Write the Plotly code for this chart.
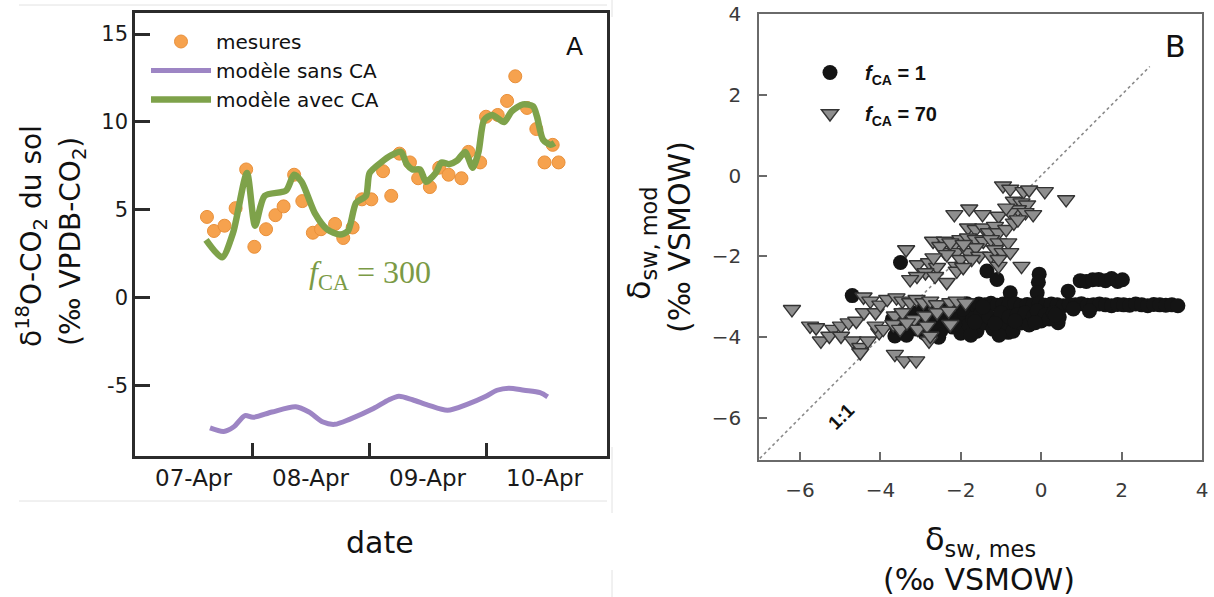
import pandas as pd
import plotly.graph_objects as go

# ---------------- Panel A data (days since 07-Apr 00:00) ----------------
base_date = pd.Timestamp("2013-04-07")
date_labels = ["07-Apr", "08-Apr", "09-Apr", "10-Apr"]

mes_days = [0.615, 0.675, 0.765, 0.86, 0.95, 1.02, 1.12, 1.2, 1.27, 1.36,
            1.43, 1.52, 1.59, 1.71, 1.78, 1.86, 1.94, 2.02, 2.12, 2.19,
            2.26, 2.35, 2.42, 2.52, 2.6, 2.68, 2.79, 2.85, 2.95, 3.0,
            3.1, 3.18, 3.25, 3.35, 3.43, 3.5, 3.57, 3.62]
mes_vals = [4.6, 3.8, 4.1, 5.1, 7.3, 2.9, 3.9, 4.7, 5.2, 7.0,
            5.5, 3.7, 3.9, 4.2, 3.4, 4.0, 5.6, 5.6, 7.2, 5.8,
            8.2, 7.7, 6.8, 6.3, 7.4, 7.0, 6.8, 8.3, 7.7, 10.3,
            10.4, 11.2, 12.6, 10.8, 9.6, 7.7, 8.7, 7.7]

avec_days = [0.607, 0.744, 0.838, 0.957, 1.026, 1.108, 1.291, 1.359, 1.424, 1.538,
             1.641, 1.752, 1.821, 1.889, 1.974, 2.005, 2.103, 2.188, 2.274, 2.322,
             2.371, 2.436, 2.487, 2.57, 2.62, 2.684, 2.752, 2.821, 2.886, 2.936,
             2.983, 3.051, 3.154, 3.219, 3.316, 3.402, 3.436, 3.487, 3.551, 3.585]
avec_vals = [3.3, 2.3, 3.7, 7.1, 4.1, 5.8, 6.1, 7.0, 6.6, 4.8,
             3.9, 3.6, 3.8, 5.4, 5.8, 7.1, 7.7, 8.1, 8.3, 7.6,
             7.3, 7.3, 6.6, 7.1, 7.7, 7.6, 7.8, 8.3, 7.4, 8.3,
             10.1, 10.4, 10.0, 10.6, 11.0, 10.9, 10.3, 9.0, 8.7, 8.8]

sans_days = [0.641, 0.758, 0.842, 0.94, 1.009, 1.171, 1.374, 1.487, 1.607, 1.706,
             1.838, 2.038, 2.171, 2.255, 2.372, 2.504, 2.671, 2.838, 3.0, 3.094,
             3.194, 3.325, 3.462, 3.527]
sans_vals = [-7.4, -7.6, -7.35, -6.7, -6.8, -6.5, -6.2, -6.5, -7.07, -7.2,
             -6.9, -6.3, -5.8, -5.6, -5.8, -6.1, -6.4, -6.06, -5.6, -5.26,
             -5.14, -5.26, -5.4, -5.64]

yA_ticks = [-5, 0, 5, 10, 15]
yA_text = ["-5", "0", "5", "10", "15"]

# ---------------- Panel B data ----------------
fca1_x = [-4.7, -3.5, -1.35, -1.1, -0.77, -0.05, -0.07, -0.1, 0.67, 0.97,
          1.12, 1.28, 1.43, 1.6, 1.75, 1.9, 2.02, 0.42, -0.82, -3.64,
          -2.0, -1.85, -1.7, -1.55, -1.4, -1.25, -1.1, -0.95, -0.8, -0.65,
          -0.5, -0.35, -0.2, -0.05, 0.1, 0.25, 0.4, 0.55, 0.7, 0.85,
          1.0, 1.15, 1.3, 1.45, 1.6, 1.75, 1.9, 2.05, 2.2, 2.35,
          2.5, 2.65, 2.8, 2.95, 3.1, 3.25, 3.4,
          -3.7, -3.6, -3.5, -3.4, -3.3, -3.2, -3.1, -3.0, -2.9, -2.8,
          -2.7, -2.6, -2.5, -2.4, -2.3, -2.2, -2.1, -2.0, -1.9, -1.8,
          -1.7, -1.6, -1.5, -1.4, -1.3, -1.2, -1.1, -1.0, -0.9, -0.8,
          -0.7, -0.6, -0.5, -0.4, -0.3, -0.2, -0.1, 0.0, 0.1, 0.2,
          0.3, 0.45, -2.95, -2.45, -1.95, -1.45, -3.35, -2.55, -1.75, -1.05,
          -3.15, -2.65, -2.15, -1.65, -1.15, -0.65, -0.15, 0.35, 0.8, 1.2]
fca1_y = [-2.97, -2.15, -2.36, -2.57, -2.9, -2.44, -2.64, -2.9, -2.86, -2.6,
          -2.62, -2.58, -2.57, -2.6, -2.55, -2.62, -2.58, -3.64, -3.88, -3.97,
          -3.2, -3.17, -3.22, -3.18, -3.2, -3.16, -3.21, -3.18, -3.2, -3.17,
          -3.22, -3.19, -3.2, -3.16, -3.21, -3.18, -3.2, -3.22, -3.19, -3.2,
          -3.17, -3.21, -3.2, -3.18, -3.2, -3.22, -3.19, -3.2, -3.21, -3.18,
          -3.2, -3.22, -3.19, -3.2, -3.21, -3.2, -3.22,
          -3.55, -3.75, -3.45, -3.85, -3.6, -3.4, -3.8, -3.55, -3.9, -3.35,
          -3.7, -3.5, -3.85, -3.6, -3.4, -3.75, -3.55, -3.9, -3.45, -3.7,
          -3.55, -3.85, -3.4, -3.65, -3.5, -3.8, -3.6, -3.4, -3.7, -3.5,
          -3.85, -3.45, -3.65, -3.4, -3.7, -3.5, -3.35, -3.6, -3.45, -3.55,
          -3.4, -3.5, -3.3, -3.3, -3.3, -3.25, -3.95, -4.0, -3.95, -3.95,
          -3.65, -3.62, -3.68, -3.62, -3.66, -3.6, -3.64, -3.45, -3.3, -3.35]

fca70_x = [-0.95, -0.77, -0.44, -0.3, 0.09, 0.62,
           -0.68, -0.49, -0.35, -0.58, -0.77, -1.06, -0.39, -0.2, -0.87,
           -2.16, -1.79, -1.46,
           -1.82, -1.63, -1.44, -1.3, -1.15, -1.06, -0.87, -0.68, -0.58,
           -2.01, -1.82, -1.63, -1.44, -1.25, -1.06, -0.82,
           -2.69, -2.4, -2.2, -2.4, -2.11, -1.82, -1.63, -1.54, -1.25, -1.15,
           -0.96, -0.77, -0.49, -1.06,
           -3.36, -2.51, -2.26, -1.93,
           -3.07, -2.79, -2.59, -2.88, -2.64, -2.35, -2.11, -2.01, -1.73, -1.06,
           -3.09, -3.26, -2.35, -2.1, -1.94, -2.68,
           -6.2, -5.75, -5.6, -5.48, -5.17, -4.98, -4.79, -4.6, -4.41, -4.12,
           -5.27, -4.98, -4.69, -4.5, -4.5, -4.31, -4.03,
           -4.42, -4.25, -4.0, -3.83, -3.6, -3.45, -3.26, -3.1, -2.93, -2.76,
           -2.59, -2.26, -2.1, -1.88,
           -3.64, -3.45, -3.16, -2.88, -2.59, -2.3,
           -3.64, -3.41, -3.11,
           -3.07, -2.79, -4.12, -3.93, -3.68, -3.51, -3.34, -2.84, -2.76, -2.26]
fca70_y = [-0.25, -0.33, -0.39, -0.35, -0.39, -0.59,
           -0.63, -0.67, -0.72, -0.84, -0.91, -1.0, -0.91, -0.96, -0.8,
           -0.96, -0.82, -0.96,
           -1.29, -1.33, -1.29, -1.41, -1.25, -1.41, -1.33, -1.17, -1.09,
           -1.58, -1.54, -1.58, -1.62, -1.58, -1.66, -1.66,
           -1.62, -1.62, -1.75, -1.9, -1.9, -1.9, -1.78, -1.99, -1.99, -1.83,
           -1.9, -1.9, -2.24, -2.24,
           -1.83, -1.75, -1.66, -1.7,
           -2.2, -2.15, -2.27, -2.4, -2.49, -2.64, -2.24, -2.07, -2.07, -2.07,
           -2.49, -2.57, -1.95, -2.36, -2.27, -2.03,
           -3.31, -3.72, -3.76, -4.09, -3.8, -3.72, -3.64, -3.6, -3.39, -3.39,
           -3.97, -3.97, -4.09, -4.25, -4.38, -4.09, -3.88,
           -3.0, -3.1, -3.2, -3.06, -3.02, -3.1, -3.14, -3.06, -3.14, -3.1,
           -3.19, -3.14, -3.1, -3.15,
           -3.47, -3.39, -3.56, -3.47, -3.39, -3.35,
           -4.42, -4.58, -4.58,
           -3.8, -4.09, -3.72, -3.8, -3.68, -3.8, -3.64, -3.72, -3.97, -3.68]

one_to_one = [-7.0, 2.7]

# ---------------- Build figure ----------------
def to_dates(days):
    return [base_date + pd.to_timedelta(d, unit="D") for d in days]

label_pos = [base_date + pd.Timedelta(days=i + 0.5) for i in range(len(date_labels))]
boundary_pos = [base_date + pd.Timedelta(days=i) for i in range(1, len(date_labels))]

W, H = 1214, 597
FA = "DejaVu Sans"
FB = "Liberation Sans, Arial, sans-serif"

fig = go.Figure()

fig.add_trace(go.Scatter(
    x=to_dates(mes_days), y=mes_vals, mode="markers", name="mesures",
    marker=dict(size=13, color="#f6a24e", line=dict(color="#e9903a", width=1)),
    xaxis="x", yaxis="y", legend="legend"))
fig.add_trace(go.Scatter(
    x=to_dates(sans_days), y=sans_vals, mode="lines", name="modèle sans CA",
    line=dict(color="#9d85c4", width=5, shape="spline", smoothing=0.8),
    xaxis="x", yaxis="y", legend="legend"))
fig.add_trace(go.Scatter(
    x=to_dates(avec_days), y=avec_vals, mode="lines", name="modèle avec CA",
    line=dict(color="#7ea24a", width=6.5, shape="spline", smoothing=0.7),
    xaxis="x", yaxis="y", legend="legend"))

fig.add_trace(go.Scatter(
    x=one_to_one, y=one_to_one, mode="lines", showlegend=False,
    line=dict(color="#8a8a8a", width=1.6, dash="dot"),
    xaxis="x2", yaxis="y2"))
fig.add_trace(go.Scatter(
    x=fca1_x, y=fca1_y, mode="markers",
    name="<b><i>f</i><sub>CA</sub> = 1</b>",
    marker=dict(symbol="circle", size=15, color="#141414"),
    xaxis="x2", yaxis="y2", legend="legend2", legendgroup="g1"))
fig.add_trace(go.Scatter(
    x=fca70_x, y=fca70_y, mode="markers",
    name="<b><i>f</i><sub>CA</sub> = 70</b>",
    marker=dict(symbol="triangle-down", size=15, color="#8e8e8e",
                line=dict(color="#333333", width=1.4)),
    xaxis="x2", yaxis="y2", legend="legend2", legendgroup="g2"))

dom_xA = [135 / W, 607 / W]
dom_yA = [1 - 456 / H, 1 - 13 / H]
dom_xB = [759 / W, 1202 / W]
dom_yB = [1 - 460 / H, 1 - 14 / H]

axA_line = dict(showline=True, mirror=True, linecolor="#2b2b2b", linewidth=2.5,
                showgrid=False, zeroline=False, automargin=False)
axB_line = dict(showline=True, mirror=True, linecolor="#6a6a6a", linewidth=1.5,
                showgrid=False, zeroline=False, automargin=False)

fig.update_layout(
    width=W, height=H, autosize=False,
    margin=dict(l=0, r=0, t=0, b=0, pad=0),
    paper_bgcolor="white", plot_bgcolor="white",
    xaxis=dict(domain=dom_xA, anchor="y", type="date",
               range=[base_date, base_date + pd.to_timedelta(4.034, unit="D")],
               tickmode="array", tickvals=label_pos, ticktext=date_labels,
               ticks="", ticklabelstandoff=0,
               tickfont=dict(family=FA, size=23, color="#1a1a1a"),
               minor=dict(tickmode="array", tickvals=boundary_pos, ticks="inside",
                          ticklen=13, tickwidth=2.5, tickcolor="#2b2b2b", showgrid=False),
               **axA_line),
    yaxis=dict(domain=dom_yA, anchor="x", range=[-9.0, 16.2],
               tickmode="array", tickvals=yA_ticks, ticktext=yA_text,
               ticks="inside", ticklen=15, tickwidth=2.5, tickcolor="#2b2b2b",
               ticklabelstandoff=0,
               tickfont=dict(family=FA, size=21, color="#1a1a1a"),
               **axA_line),
    xaxis2=dict(domain=dom_xB, anchor="y2", range=[-7.02, 4.0],
                tickvals=[-6, -4, -2, 0, 2, 4],
                ticks="inside", ticklen=8, tickwidth=1.5, tickcolor="#6a6a6a",
                ticklabelstandoff=11,
                tickfont=dict(family=FA, size=20, color="#3a3a3a"),
                **axB_line),
    yaxis2=dict(domain=dom_yB, anchor="x2", range=[-7.04, 4.0],
                tickvals=[-6, -4, -2, 0, 2, 4],
                ticks="inside", ticklen=8, tickwidth=1.5, tickcolor="#6a6a6a",
                ticklabelstandoff=12,
                tickfont=dict(family=FA, size=20, color="#3a3a3a"),
                **axB_line),
    legend=dict(x=146 / W, y=1 - 22 / H, xanchor="left", yanchor="top",
                bgcolor="rgba(0,0,0,0)", itemwidth=60,
                font=dict(family=FA, size=20, color="#111111"),
                tracegroupgap=0),
    legend2=dict(x=795 / W, y=1 - 53 / H, xanchor="left", yanchor="top",
                 bgcolor="rgba(0,0,0,0)", itemwidth=60, tracegroupgap=12,
                 font=dict(family=FB, size=20, color="#111111")),
)

def ann(text, x, y, size, family=FA, color="#111111", angle=0):
    fig.add_annotation(text=text, x=x / W, y=1 - y / H, xref="paper", yref="paper",
                       showarrow=False, xanchor="center", yanchor="middle",
                       textangle=angle, font=dict(family=family, size=size, color=color))

ann("A", 574, 47, 25)
ann("B", 1175, 46, 30)
ann("<i>f</i><sub>CA</sub> = 300", 370, 274, 32, family="Liberation Serif", color="#7b9a45")
ann("date", 380, 542, 30)
ann("δ<sup>18</sup>O-CO<sub>2</sub> du sol", 31, 236, 28, angle=-90)
ann("(‰ VPDB-CO<sub>2</sub>)", 72, 242, 28, angle=-90)
ann("δ<sub>sw, mes</sub>", 980, 541, 32)
ann("(‰ VSMOW)", 979, 579, 30)
ann("δ<sub>sw, mod</sub>", 641, 243, 32, angle=-90)
ann("(‰ VSMOW)", 679, 237, 30, angle=-90)
ann("<b>1:1</b>", 841, 416, 19, family=FB, angle=-45)

# faint image-border lines
for x0, y0, x1, y1 in [(19, 5, 607, 5), (19, 501, 607, 501),
                       (612, 0, 612, 17), (612, 447, 612, 513), (612, 570, 612, 597)]:
    fig.add_shape(type="line", xref="paper", yref="paper",
                  x0=x0 / W, y0=1 - y0 / H, x1=x1 / W, y1=1 - y1 / H,
                  line=dict(color="#e2e2e2", width=1))

pin_js = ("document.body.style.margin='0';document.body.style.overflow='hidden';"
          "var d=document.getElementById('{plot_id}');"
          "d.style.position='fixed';d.style.left='0px';d.style.top='0px';")
fig.write_html("out.html", post_script=pin_js, config={"displayModeBar": False})
